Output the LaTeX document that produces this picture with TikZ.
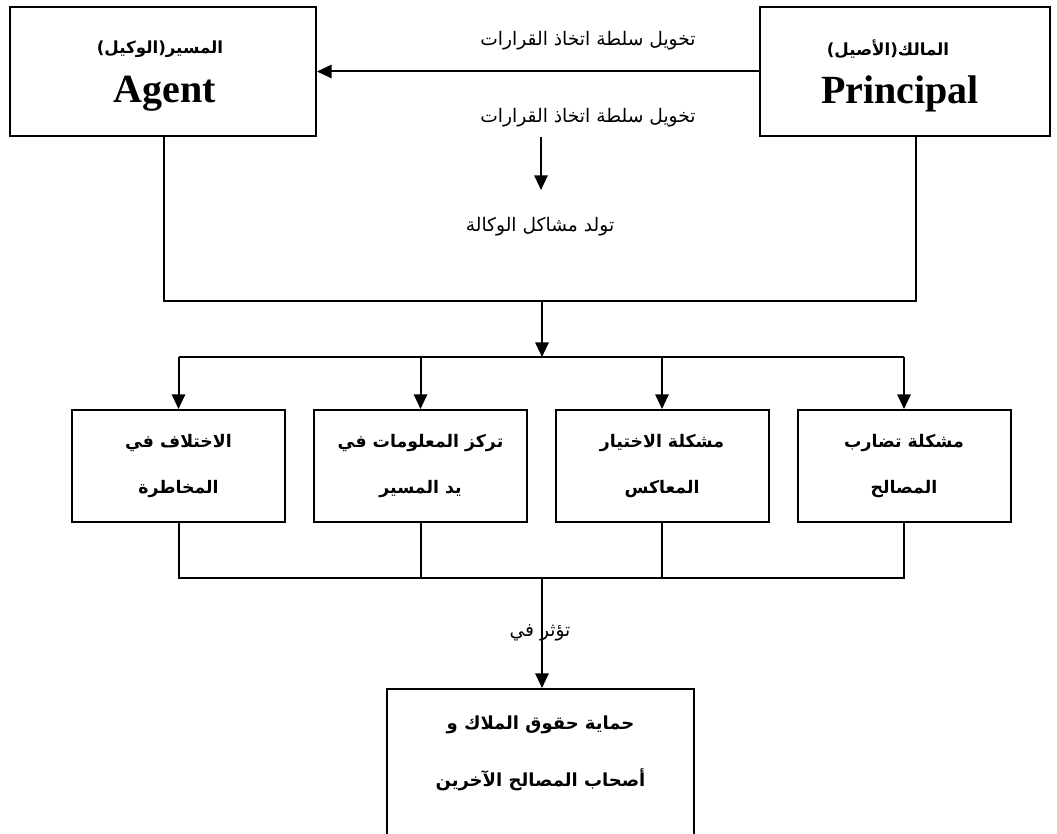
\documentclass[tikz,border=0pt]{standalone}
\usepackage{fontspec}
\usetikzlibrary{arrows.meta}
\TeXXeTstate=1
\setmainfont{Liberation Serif}
\newfontfamily\arabicfont[Script=Arabic]{DejaVu Sans}
% one right-to-left line of Arabic
\newcommand{\rtl}[1]{{\arabicfont\beginR #1\endR}}

\tikzset{
  panel/.style={draw, line width=1.5pt, inner sep=0pt, align=center},
  party/.style={panel, minimum height=96.75pt},
  partyar/.style={inner sep=0pt, font=\bfseries\fontsize{12.5pt}{14pt}\selectfont},
  partyen/.style={inner sep=0pt, font=\bfseries\fontsize{30pt}{34pt}\selectfont},
  issue/.style={panel, minimum width=159.75pt, minimum height=84pt,
    font=\bfseries\fontsize{13pt}{35pt}\selectfont},
  note/.style={inner sep=0pt, font=\fontsize{14pt}{16pt}\selectfont},
  link/.style={line width=1.5pt},
  flow/.style={link, -{Triangle[width=10pt,length=11pt]}}
}

\begin{document}
\begin{tikzpicture}[x=0.75pt, y=-0.75pt]
\useasboundingbox (0,0) rectangle (1057,834);
\clip (0,0) rectangle (1057,834);

% the two parties
\node[party, minimum width=229.5pt] (agent) at (163,71.5) {};
\node[partyar] (agentar) at (160,49) {\rtl{المسير(الوكيل)}};
\node[partyen] (agenten) at (165,94) {Agent};

\node[party, minimum width=217.5pt] (principal) at (905,71.5) {};
\node[partyar] (principalar) at (888,49) {\rtl{المالك(الأصيل)}};
\node[partyen] (principalen) at (900,94) {Principal};

% delegation of decision rights
\draw[flow] (principal.west) -- (agent.east);
\node[note] (deleg1) at (588,41) {\rtl{تخويل سلطة اتخاذ القرارات}};
\node[note] (deleg2) at (588,118) {\rtl{تخويل سلطة اتخاذ القرارات}};
\coordinate (d1) at (541,137);
\coordinate (d2) at (541,190);
\draw[flow] (d1) -- (d2);
\node[note] (problems) at (540,227) {\rtl{تولد مشاكل الوكالة}};

% joining the two parties
\coordinate (ja) at (164,301);
\coordinate (jp) at (916,301);
\coordinate (jm) at (542,301);
\draw[link] (agent.south -| ja) -- (ja) -- (jp) -- (principal.south -| jp);

% the four agency problems
\node[issue] (risk) at (178.5,466) {\rtl{الاختلاف في}\\\rtl{المخاطرة}};
\node[issue] (info) at (420.5,466) {\rtl{تركز المعلومات في}\\\rtl{يد المسير}};
\node[issue] (adverse) at (662,466) {\rtl{مشكلة الاختيار}\\\rtl{المعاكس}};
\node[issue] (conflict) at (904,466) {\rtl{مشكلة تضارب}\\\rtl{المصالح}};

\coordinate (split) at (542,357);
\draw[flow] (jm) -- (split);
\draw[link] (split -| risk) -- (split -| conflict);
\foreach \n in {risk,info,adverse,conflict}
  \draw[flow] (split -| \n) -- (\n.north);

% gathering towards the outcome
\coordinate (merge) at (542,578);
\draw[link] (risk.south) -- (merge -| risk) -- (merge -| conflict) -- (conflict.south);
\draw[link] (info.south) -- (merge -| info);
\draw[link] (adverse.south) -- (merge -| adverse);

\node[panel, anchor=north, minimum width=230.25pt, minimum height=135pt] (goal) at (540.5,688) {};
\node[align=center, inner sep=0pt, font=\bfseries\fontsize{13.5pt}{42.75pt}\selectfont] (goaltext) at (540.5,753.5)
  {\rtl{حماية حقوق الملاك و}\\\rtl{أصحاب المصالح الآخرين}};
\draw[flow] (merge) -- (goal.north -| merge);
\node[note] (affects) at (540,633) {\rtl{تؤثر في}};
\end{tikzpicture}
\end{document}
